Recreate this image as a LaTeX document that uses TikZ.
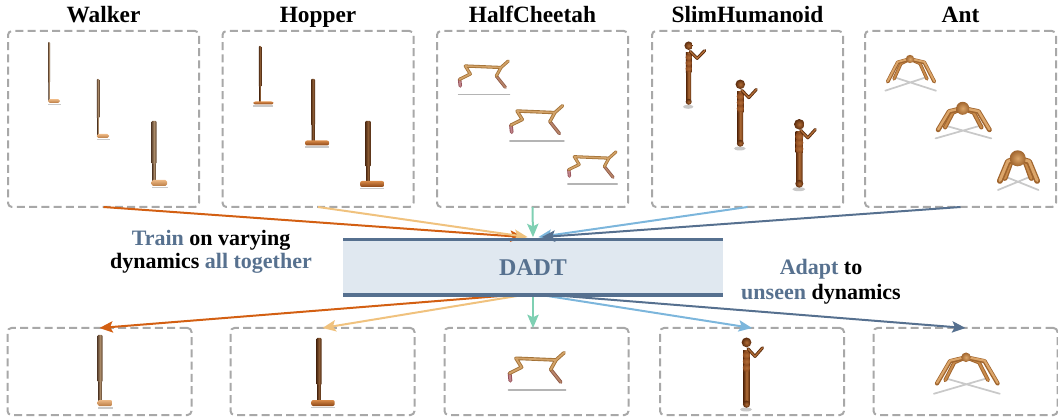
\documentclass[tikz,border=0pt]{standalone}
\usepackage{fontspec}
\setmainfont{Liberation Serif}
\usetikzlibrary{arrows.meta}

% diagram colours
\definecolor{slate}{HTML}{57718F}
\definecolor{dadtfill}{HTML}{E0E8F0}
\definecolor{boxgray}{HTML}{A8A8A8}
\definecolor{orangec}{HTML}{D35F12}
\definecolor{yellowc}{HTML}{F0C27E}
\definecolor{greenc}{HTML}{7FD0B3}
\definecolor{lbluec}{HTML}{7CB6DC}
\definecolor{dbluec}{HTML}{56708F}
% robot colours
\definecolor{shadowc}{HTML}{C9C9C9}
\definecolor{groundc}{HTML}{B4B4B4}
\definecolor{wkdark}{HTML}{5E4430}
\definecolor{wklight}{HTML}{A88866}
\definecolor{wkfootl}{HTML}{EDB884}
\definecolor{wkfootd}{HTML}{B97C45}
\definecolor{hpdark}{HTML}{4E2A12}
\definecolor{hplight}{HTML}{8A5A33}
\definecolor{hpfootl}{HTML}{D88A48}
\definecolor{hpfootd}{HTML}{8A4516}
\definecolor{chtan}{HTML}{D2A268}
\definecolor{chtand}{HTML}{A27136}
\definecolor{chpink}{HTML}{C0848A}
\definecolor{chpinkd}{HTML}{955058}
\definecolor{chshin}{HTML}{B98569}
\definecolor{chshind}{HTML}{8E5A48}
\definecolor{hum}{HTML}{8E4A1E}
\definecolor{humd}{HTML}{5A2A0C}
\definecolor{huml}{HTML}{B06C36}
\definecolor{antc}{HTML}{C98B4B}
\definecolor{antd}{HTML}{A0652E}
\definecolor{antl}{HTML}{DCA66A}

\tikzset{
  % Walker: #1 height, #2 stick width, #3 foot length
  pics/walkerbot/.style n args={3}{code={
    \fill[shadowc] (-#2*0.5,#2*0.5+1.6) rectangle (#3+0.5,#2*0.5+3);
    \shade[left color=wkdark,right color=wkdark,middle color=wklight] (-#2*0.32,0) rectangle (#2*0.32,-#1*0.33);
    \shade[left color=wkdark,right color=wkdark,middle color=wklight,rounded corners=0.6pt] (-#2*0.5,-#1*0.31) rectangle (#2*0.5,-#1);
    \shade[top color=wkfootl,bottom color=wkfootd,rounded corners=1.2pt] (-#2*0.5,-#2*0.4-1) rectangle (#3,#2*0.4+1);
  }},
  % Hopper: #1 height, #2 stick width, #3 foot length, #4 foot thickness
  pics/hopperbot/.style n args={4}{code={
    \fill[shadowc] (-#3*0.33,#4*0.5+0.8) rectangle (#3*0.67,#4*0.5+2.3);
    \shade[left color=hpdark,right color=hpdark,middle color=hplight] (-#2*0.35,0) rectangle (#2*0.35,-#1*0.3);
    \shade[left color=hpdark,right color=hpdark,middle color=hplight,rounded corners=0.6pt] (-#2*0.5,-#1*0.28) rectangle (#2*0.5,-#1);
    \shade[top color=hpfootl,bottom color=hpfootd,rounded corners=1.5pt] (-#3*0.33,-#4*0.5) rectangle (#3*0.67,#4*0.5);
  }},
  % HalfCheetah: #1 scale
  pics/cheetahbot/.style={code={
    \begin{scope}[scale=#1,line cap=round,line join=round]
      \draw[groundc,line width=#1*1.1pt] (-6.7,28.3) -- (44.3,28.3);
      \draw[chpinkd,line width=#1*2.6pt] (-5.7,13.3) -- (-5,20);
      \draw[chpink,line width=#1*1.3pt] (-5.7,13.3) -- (-5,20);
      \draw[chshind,line width=#1*2.4pt] (31,10) -- (40,21.3);
      \draw[chshin,line width=#1*1.2pt] (31,10) -- (40,21.3);
      \draw[chtand,line width=#1*2.4pt] (-5.7,13.3) -- (5,8) -- (0,0) -- (35.7,1.5) -- (31,10) (35.7,1.5) -- (43,-5);
      \draw[chtan,line width=#1*1.2pt] (-5.7,13.3) -- (5,8) -- (0,0) -- (35.7,1.5) -- (31,10) (35.7,1.5) -- (43,-5);
    \end{scope}
  }},
  % SlimHumanoid: #1 height, #2 body width
  pics/humanoidbot/.style n args={2}{code={
    \fill[shadowc] (-0.5,3.5) ellipse [x radius=#2*0.8+1.2, y radius=2];
    \shade[left color=humd,right color=humd,middle color=huml,rounded corners=1pt] (-#2*0.5,0) rectangle (#2*0.5,-#1*0.56);
    \shade[inner color=huml,outer color=humd] (0,-#2*0.3) circle [radius=#2*0.6];
    \shade[left color=humd,right color=humd,middle color=huml] (-#2*0.55,-#1*0.54) rectangle (#2*0.55,-#1*0.88);
    \foreach \k in {0.6,0.7,0.8}
      \shade[inner color=huml,outer color=hum] (0,-#1*\k) circle [radius=#2*0.62];
    \draw[humd,line width=2.3pt,line cap=round,line join=round] (1.5,-0.9*#1) -- (8.5,-0.78*#1) -- (16,-0.915*#1);
    \draw[huml,line width=1pt,line cap=round,line join=round] (1.5,-0.9*#1) -- (8.5,-0.78*#1) -- (16,-0.915*#1);
    \shade[inner color=huml,outer color=humd] (0,-#1) circle [radius=#2*0.65+1];
  }},
  % Ant: #1 x scale, #2 y scale, #3 body radius, #4 leg width
  pics/antbot/.style n args={4}{code={
    \begin{scope}[xscale=#1,yscale=#2,line cap=round,line join=round]
      \draw[shadowc,line width=1.3pt] (-24.7,31.7) -- (16,18.3) (-15.7,18.3) -- (26,31.7);
      \draw[antd,line width=#4*0.9] (-2,1) -- (-9,4.5) -- (-16,20) (2,1) -- (10,4.5) -- (17,20);
      \draw[antc,line width=#4*0.45] (-2,1) -- (-9,4.5) -- (-16,20) (2,1) -- (10,4.5) -- (17,20);
      \draw[antd,line width=#4] (0,0) -- (-12.3,3.4) -- (-22.3,22.7) (0,0) -- (14.3,3.4) -- (24.3,22.7);
      \draw[antl,line width=#4*0.5] (0,-0.3) -- (-12.3,2.9) -- (-22.3,22.2) (0,-0.3) -- (14.3,2.9) -- (24.3,22.2);
    \end{scope}
    \shade[inner color=antl,outer color=antd] (0,0) circle [radius=#3];
  }},
  envbox/.style={draw=boxgray,line width=1.5pt,dash pattern=on 6pt off 3.2pt,
    rounded corners=3pt,minimum width=143.25pt,minimum height=132pt,inner sep=0pt,outer sep=0pt},
  testbox/.style={envbox,minimum width=138pt,minimum height=65.25pt},
  title/.style={font=\bfseries\fontsize{17.5}{20}\selectfont,anchor=base,inner sep=0pt},
  lbl/.style={font=\bfseries\fontsize{16.5}{19}\selectfont,anchor=base,inner sep=0pt},
  flow/.style={line width=1.5pt,-{Stealth[length=10pt,width=8.5pt,inset=2pt]}},
}

\begin{document}
\begin{tikzpicture}[x=0.75pt,y=-0.75pt]
\useasboundingbox (0,0) rectangle (1058,417);

% training environments
\node[envbox] (walker)   at (103.5,119) {};
\node[envbox] (hopper)   at (318,119)   {};
\node[envbox] (hcheetah) at (532.5,119) {};
\node[envbox] (slimhum)  at (747.5,119) {};
\node[envbox] (ant)      at (960.5,119) {};

% unseen test environments
\node[testbox] (bwalker)  at (99.5,371.5)  {};
\node[testbox] (bhopper)  at (322.5,371.5) {};
\node[testbox] (bcheetah) at (536.5,371.5) {};
\node[testbox] (bslim)    at (752,371.5)   {};
\node[testbox] (bant)     at (965.5,371.5) {};

% titles
\coordinate (tline) at (0,23);
\node[title] (twalker)   at (walker.north |- tline)   {Walker};
\node[title] (thopper)   at (hopper.north |- tline)   {Hopper};
\node[title] (tcheetah)  at (hcheetah.north |- tline) {HalfCheetah};
\node[title] (tslim)     at (slimhum.north |- tline)  {SlimHumanoid};
\node[title] (tant)      at (ant.north |- tline)      {Ant};

% robots, top row
\pic at (49,101)  {walkerbot={59}{2}{11}};
\pic at (98,136)  {walkerbot={57}{2.5}{11}};
\pic at (154,183) {walkerbot={62}{5}{13}};
\pic at (260,103) {hopperbot={57}{2.5}{20}{3}};
\pic at (313,143) {hopperbot={64}{4}{24}{5}};
\pic at (368,184) {hopperbot={63}{5.5}{24}{6}};
\pic at (465.3,66)    {cheetahbot=1};
\pic at (517,111)     {cheetahbot=1.06};
\pic at (574.3,156.7) {cheetahbot=0.97};
\pic at (688.7,103.3) {humanoidbot={57.6}{5}};
\pic at (740.3,145)   {humanoidbot={60.7}{5.8}};
\pic at (799.3,185.7) {humanoidbot={61.4}{6.6}};
\pic at (910,59)       {antbot={1}{1}{4.2}{2.8pt}};
\pic at (962.7,108.3)  {antbot={1.1}{0.95}{6.5}{3.6pt}};
\pic at (1017.7,158.3) {antbot={0.8}{1}{8}{4.4pt}};

% robots, bottom row
\pic at (100,403)   {walkerbot={68}{5}{12.5}};
\pic at (319,403)   {hopperbot={65}{5}{23.5}{6}};
\pic at (516,358.3) {cheetahbot=1.12};
\pic at (746.5,406) {humanoidbot={63.6}{6}};
\pic at (966,357.3) {antbot={1.3}{1.15}{4.8}{3.2pt}};

% DADT model
\node[fill=dadtfill,minimum width=285pt,minimum height=41.6pt,inner sep=0pt,outer sep=0pt,
      text=slate,font=\bfseries\fontsize{18}{20}\selectfont] (dadt) at (533,267.25) {DADT};

% training flows
\draw[flow,orangec] (walker.south)   -- ([xshift=-7pt,yshift=1.8pt]dadt.north);
\draw[flow,yellowc] (hopper.south)   -- ([xshift=-4pt,yshift=1.8pt]dadt.north);
\draw[flow,lbluec]  (slimhum.south)  -- ([xshift=4pt,yshift=1.8pt]dadt.north);
\draw[flow,dbluec]  (ant.south)      -- ([xshift=6.5pt,yshift=1.8pt]dadt.north);
\draw[flow,greenc]  (hcheetah.south) -- ([yshift=1.8pt]dadt.north);

% adaptation flows
\draw[flow,orangec] ([xshift=-15pt]dadt.south) -- (bwalker.north);
\draw[flow,yellowc] ([xshift=-7.5pt]dadt.south) -- (bhopper.north);
\draw[flow,greenc]  (dadt.south) -- (dadt.south |- bcheetah.north);
\draw[flow,lbluec]  ([xshift=6pt]dadt.south) -- (bslim.north);
\draw[flow,dbluec]  ([xshift=13.5pt]dadt.south) -- (bant.north);

% DADT top and bottom rules
\draw[dbluec,line width=2.6pt] (dadt.north west) -- (dadt.north east);
\draw[dbluec,line width=2.6pt] (dadt.south west) -- (dadt.south east);

% captions
\node[lbl] (train1) at (211,245.6) {\textcolor{slate}{Train} on varying};
\node[lbl] (train2) at (211,268.6) {dynamics \textcolor{slate}{all together}};
\node[lbl] (adapt1) at (821,274.8) {\textcolor{slate}{Adapt} to};
\node[lbl] (adapt2) at (821,299.5) {\textcolor{slate}{unseen} dynamics};
\end{tikzpicture}
\end{document}
